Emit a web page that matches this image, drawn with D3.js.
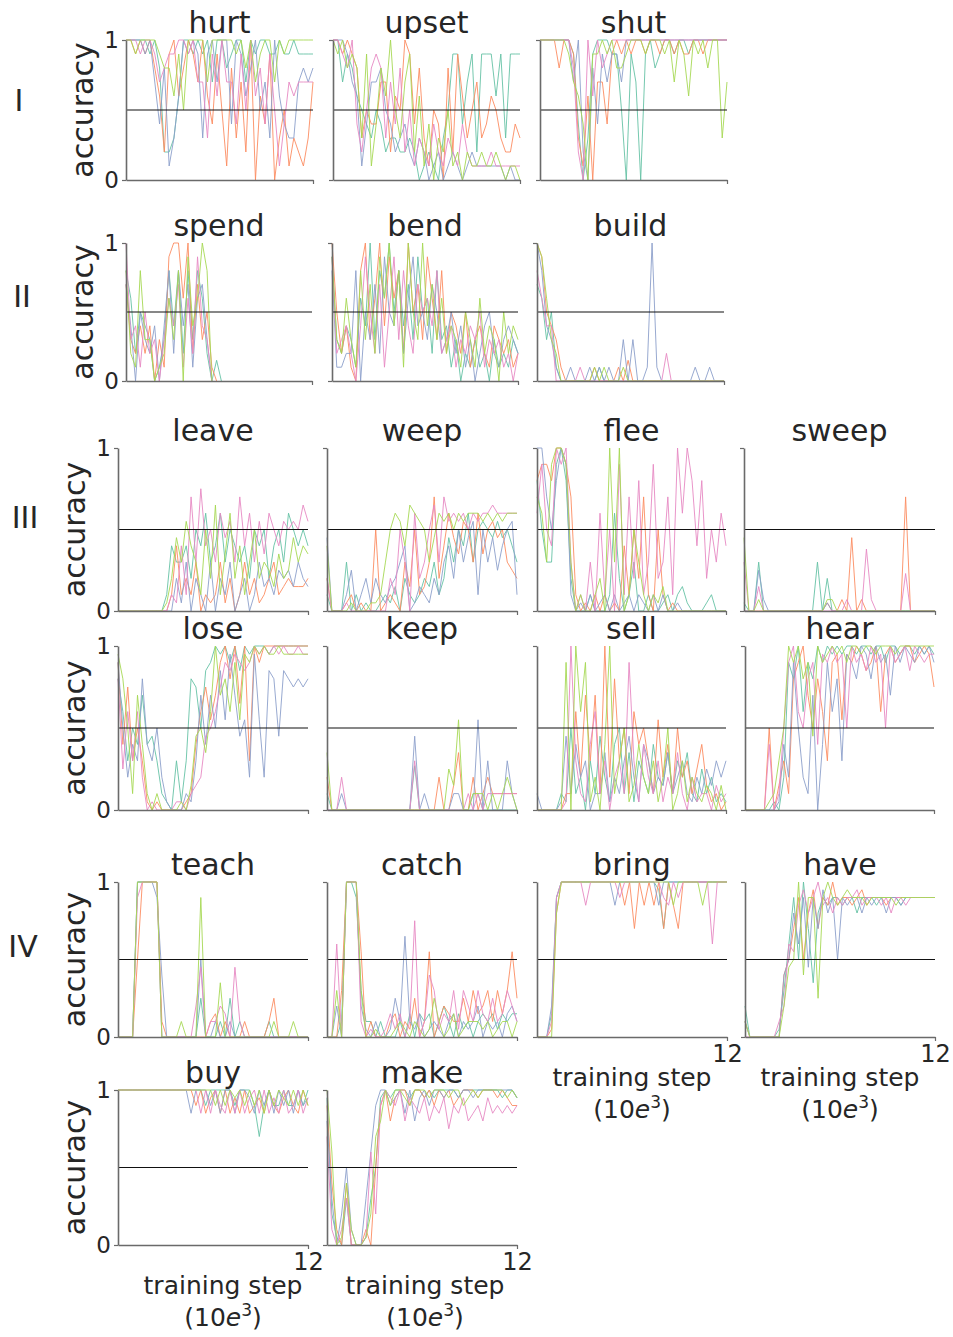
<!DOCTYPE html>
<html><head><meta charset="utf-8">
<script src="https://cdn.jsdelivr.net/npm/d3@7"></script>
<style>
body{margin:0;background:#fff;}
svg{display:block;font-family:"DejaVu Sans",sans-serif;}
</style></head>
<body>
<svg id="c" width="953" height="1337"></svg>
<script>
// ---- data: each verb = [teal, orange, blue, pink, green] series, accuracy per evaluation step (0..12 x10e3)
const hurt = [
 [1,1,1,1,1,.9,1,.8,.2,.2,.3,.6,1,1,.9,1,.9,1,.7,1,1,.8,.9,1,1,.7,1,.9,1,1,.9,.9,1,.9,.9,1,.9,.9,.9,.9],
 [1,1,.9,1,.9,1,.8,.6,.2,.9,1,.6,.8,1,.9,.7,1,.6,.4,.9,.5,.1,.8,.3,.7,.2,1,0,.6,.4,.9,0,.3,.5,.1,.3,.2,.1,.3,.7],
 [1,1,1,1,.9,1,.7,.4,.8,.1,.3,.6,1,.9,1,.9,.3,.9,1,.7,1,1,.4,1,.9,.6,.8,1,.5,.7,.3,1,.6,.4,.3,.3,.7,.8,.7,.8],
 [1,1,1,.9,1,1,.9,.7,.8,.9,.9,1,1,.9,1,.7,.7,.3,.9,.6,1,.7,.7,.4,.9,.5,1,.6,.8,.4,.9,.5,.1,.4,.7,.6,.7,.7,.7,.7],
 [1,1,.9,1,1,1,1,.9,.8,.8,.6,.9,.5,1,1,1,1,.7,1,1,1,1,1,.9,1,.8,1,.7,.9,1,1,.7,1,.9,1,1,1,1,1,1]
];
const upset = [
 [1,1,.7,.9,.8,.6,.5,.4,.3,.5,.4,.2,.3,.3,.2,.2,.3,.2,0,.1,.2,.1,0,.3,.5,.9,.9,.4,.7,.9,.2,.9,.9,.9,.6,.9,.3,.9,.9,.9],
 [1,1,.9,1,.9,.8,.3,.5,.4,.4,.7,.7,.2,.6,.5,1,.9,.4,.8,.3,.1,.5,.4,0,.8,.2,.9,.6,.3,.5,.7,.3,.4,.6,.5,.3,.2,.2,.4,.3],
 [1,1,1,.9,.7,.6,.1,.4,.7,.7,.8,.5,.4,.2,.3,.4,.2,.1,.3,.2,0,.1,.2,0,.1,.2,.1,0,.1,.2,.1,.1,.1,.1,.1,.1,0,.1,0,0],
 [1,1,.9,.8,1,.4,.2,.5,.8,.9,.8,.3,.7,.4,.8,.2,.5,.1,.3,.2,.1,.4,.2,.1,.3,.2,.1,.4,.2,.1,.1,.1,.1,.2,.1,.1,.1,.1,.1,.1],
 [1,.9,1,.8,.9,.8,.3,.9,.1,.4,.8,.6,1,.5,.3,.7,.9,.2,.6,.1,.4,0,.3,.2,.5,.1,.2,0,.2,.1,.1,.2,.1,.1,.2,.1,0,.1,.1,0]
];
const shut = [
 [1,1,1,1,1,1,1,.9,.4,0,.3,.9,1,1,1,.9,.9,.5,0,.9,.7,0,.9,1,.8,.9,1,1,.9,1,1,.9,1,1,1,1,1,1,1,1],
 [1,1,1,1,.8,1,1,.9,.3,.1,.6,0,.7,.7,.4,.9,1,.9,1,.9,1,1,.9,1,1,.9,1,1,.9,1,.9,.9,1,1,.9,1,1,1,1,1],
 [1,1,1,1,1,1,1,.7,1,.2,0,.8,.4,.9,.7,.9,.9,.7,1,1,1,1,1,1,1,1,1,1,1,1,1,1,1,1,1,1,1,1,1,1],
 [1,1,1,1,1,1,1,.8,.2,0,1,.6,1,.8,.9,1,1,1,1,1,1,1,1,1,1,1,1,1,1,1,1,1,1,1,1,1,1,1,1,1],
 [1,1,1,1,1,1,.9,.7,.6,.4,0,.9,.9,1,.9,1,.8,.8,.9,1,1,1,.9,1,1,1,.9,1,.7,1,.9,.6,1,.9,1,.8,1,1,.3,.7]
];
const spend = [
 [.8,.6,.2,.5,.4,.3,0,.1,.3,.8,.4,.8,.2,.8,.3,.8,.6,.2,0,.15,0],
 [.7,.3,.2,.4,.2,.4,0,.3,.1,.9,1,1,.6,1,.2,.7,.3,.5,.1,0],
 [.7,.4,0,.5,.3,.2,.4,0,.4,.8,.2,.8,.4,.7,.1,.6,.7,.3,0],
 [1,.3,.4,.1,.5,.2,.3,0,.3,.6,.4,.7,.1,.6,.2,.9,.4,.3,0],
 [.8,.2,.1,.8,.3,.3,0,.1,.2,.6,.3,.8,0,.9,.4,.6,1,.8,0]
];
const bend = [
 [.9,.3,.2,.4,.3,.1,.6,.4,1,.3,.8,.6,1,.5,.8,.4,.7,.3,.9,.5,.6,.2,.8,.3,.4,.1,.3,0,.2,.1,.3,.1,.2,0,.3,.1,.2,.1,.3,.2],
 [1,.5,.2,.4,.1,0,.8,1,.3,.6,1,.4,.9,.6,.8,.2,1,.5,.7,.3,.9,.6,.3,.8,.2,.5,.4,.2,.5,.1,.3,.4,.2,.1,.4,.3,.2,.3,.1,.2],
 [.8,.1,.1,.2,.2,.8,0,.5,.3,.7,.2,.9,.5,.4,.8,.2,.6,.9,.4,.5,.3,.7,.5,.2,.3,.5,.2,.4,.1,.3,0,.2,.4,.5,.2,.1,.3,.4,.3,.2],
 [.9,.2,.3,.4,.2,0,.4,.9,.5,.2,.7,.1,.5,.9,.3,.8,.4,.2,.7,.5,.6,.4,.8,.2,.3,.4,.1,.3,.2,.4,.3,.5,.1,.3,.2,.3,.1,.2,0,.2],
 [.9,.3,.2,.6,.3,.1,.8,.3,.7,.2,.9,.6,1,.4,.8,.1,1,.5,.3,1,.4,.7,.3,.6,.2,.4,.3,.1,.5,.3,.1,.6,.2,.4,.3,0,.5,.2,.4,.3]
];
const build = [
 [.7,.6,.3,.5,.1,0,0,0,0,0,0,0,0,.1,0,0,0,0,0,0,0,0,0,0,0,0,0,0,0,0,0,0,0,0,0,0,0,0,0,0],
 [1,.9,.5,.4,.3,.1,0,0,0,0,0,0,.1,0,0,0,0,.1,0,.15,0,0,0,0,0,0,0,0,0,0,0,0,0,0,0,0,0,0,0,0],
 [1,.8,.4,.3,.1,0,0,.1,0,0,0,.1,0,.1,0,.1,0,0,.3,0,.3,0,0,.1,1,.1,0,0,0,0,0,0,0,.1,0,0,.1,0,0,0],
 [.8,.6,.4,.4,0,0,0,0,0,.1,0,0,0,0,0,0,0,0,0,0,0,0,0,0,0,0,0,.2,0,0,0,0,0,0,0,0,0,0,0,0],
 [1,.9,.6,.3,.2,0,0,0,0,0,0,0,.1,0,.1,0,0,0,.1,0,0,0,0,0,0,0,0,0,0,0,0,0,0,0,0,0,0,0,0,0]
];
const leave = [
 [0,0,0,0,0,0,0,0,0,0,.1,.4,.3,.3,.4,.2,.5,.4,.6,.3,.4,.6,.3,.5,.4,.3,.4,.2,.5,.4,.5,.2,.4,.5,.3,.6,.5,.4,.5,.4],
 [0,0,0,0,0,0,0,0,0,0,0,.1,.4,.1,.2,.1,.3,0,.1,.05,.1,.3,.05,.2,0,.1,.3,.1,.2,.05,.1,.2,.3,.1,.15,.2,.15,.15,.15,.2],
 [0,0,0,0,0,0,0,0,0,0,0,0,.2,.05,.3,0,.2,.1,0,.3,0,.2,.1,.3,0,.1,.2,0,.1,.3,.15,.2,.1,.25,.2,.25,.15,.3,.2,.15],
 [0,0,0,0,0,0,0,0,0,0,0,.1,.05,.4,.1,.7,.3,.75,.4,.5,.3,.6,.45,.55,.3,.7,.4,.6,.3,.55,.35,.6,.5,.4,.55,.5,.55,.5,.65,.55],
 [0,0,0,0,0,0,0,0,0,0,.05,.2,.45,.3,.55,.4,.3,.1,.5,.2,.65,.1,.35,.6,.2,.4,.1,.3,.5,.2,.3,.25,.15,.35,.2,.25,.45,.3,.4,.35]
];
const weep = [
 [.1,0,0,0,.3,0,.1,0,.05,0,0,.05,.1,.05,.15,0,.2,.1,.05,.1,.2,.15,.3,.1,.2,.45,.3,.5,.4,.6,.3,.5,.55,.5,.45,.55,.45,.5,.4,.3],
 [.2,0,0,0,.05,.1,0,.05,0,0,.5,0,.05,.1,.05,0,.3,.15,.5,.1,.15,.3,.7,.2,.4,.6,.45,.35,.55,.5,.3,.6,.35,.5,.55,.45,.5,.3,.25,.2],
 [.45,0,0,0,.1,.25,0,.1,.2,.05,.2,.1,.05,.15,.2,.3,.4,0,.05,.15,.1,.05,.2,.1,.3,.4,.2,.5,.3,.45,.55,.1,.5,.3,.45,.25,.4,.5,.55,.1],
 [.2,0,0,0,.05,0,0,0,0,0,0,0,0,.2,.1,.5,.3,0,.6,.2,.3,.5,.65,.3,.7,.55,.6,.55,.6,.5,.6,.55,.6,.6,.65,.6,.6,.6,.6,.6],
 [.4,0,0,0,0,.05,0,0,0,.05,.05,.1,.3,.5,.6,.55,.4,.65,.6,.55,.5,.3,.45,.6,.55,.6,.5,.6,.55,.6,.6,.6,.55,.6,.55,.6,.55,.6,.6,.6]
];
const flee = [
 [.8,.5,.3,.3,.9,1,.8,.2,0,0,0,.1,0,0,0,.1,.6,.2,0,.1,.3,0,0,.1,0,0,.05,.1,0,.1,.15,.05,0,0,0,.05,.1,0,0,0],
 [.8,.9,.9,.8,1,1,.9,.7,.1,0,.05,0,.1,0,.1,0,.05,0,.4,.1,.5,.2,.7,.1,0,.5,.1,0,.05,0,0,0,0,0,0,0,0,0,0,0],
 [1,1,.7,.5,.8,1,.9,.1,0,.05,0,.1,0,.05,.1,0,.1,0,.05,.1,0,.1,.05,0,.1,0,.1,0,0,.05,0,0,0,0,0,0,0,0,0,0],
 [.6,.9,.5,.4,1,.9,1,.3,0,.1,0,.3,0,.6,.1,.5,0,.9,.1,.7,.2,.8,.1,.3,.9,.2,.3,.7,.1,1,.6,1,.8,.4,.8,.2,.5,.3,.6,.4],
 [.7,.6,.3,.9,1,1,.9,.3,0,.1,0,0,.1,.2,0,1,.3,1,0,.1,.5,.3,.1,0,.1,.05,.15,0,0,0,0,0,0,0,0,0,0,0,0,0]
];
const sweep = [
 [.05,0,0,.3,0,0,0,0,0,0,0,0,0,0,0,.3,0,.2,0,0,0,0,0,0,0,0,0,0,0,0,0,0,0,0,0,0,0,0,0,0],
 [0,0,0,0,0,0,0,0,0,0,0,0,0,0,0,0,0,.05,0,0,.07,0,.45,0,.07,0,0,0,0,0,0,0,0,.7,0,0,0,0,0,0],
 [0,0,0,.25,.07,0,0,0,0,0,0,0,0,0,0,0,0,.05,0,0,0,0,0,0,0,0,0,0,0,0,0,0,0,0,0,0,0,0,0,0],
 [.3,0,0,.15,0,0,0,0,0,0,0,0,0,0,0,0,0,0,0,0,0,.07,0,0,0,.38,.07,0,0,0,0,0,0,.23,0,0,0,0,0,0],
 [.45,0,0,.07,0,0,0,0,0,0,0,0,0,0,0,0,0,.07,.07,0,0,0,0,0,0,0,0,0,0,0,0,0,0,0,0,0,0,0,0,0]
];
const lose = [
 [.8,.6,.3,.5,.4,.7,.4,.45,.3,.1,.05,0,.3,.05,.3,.8,.75,.5,.85,.9,1,.95,1,.9,1,.85,1,.95,1,1,1,.95,1,1,1,1,1,1,1,1],
 [.9,.4,.75,.3,.5,.3,.05,0,.05,0,0,0,0,0,.05,.1,.4,.6,.75,.55,.7,.9,1,.8,1,.65,1,.3,1,.9,1,1,1,1,1,1,1,1,1,1],
 [.9,.5,.2,.4,.3,.8,.4,.3,.5,.2,.05,0,0,0,.1,.05,.3,.7,.4,.7,.5,.85,.55,.95,.7,.45,.55,.2,.95,.55,.2,.85,.8,.45,.85,.8,.75,.8,.75,.8],
 [.8,.25,.6,.3,.6,.2,0,.05,0,0,0,0,.05,.05,0,.1,.15,.2,.45,.5,.6,.75,.9,.85,.95,.9,.85,.9,1,.95,1,.95,1,.95,1,.95,.95,1,.95,.95],
 [.95,.8,.5,.1,.7,.4,.1,0,.1,0,0,0,0,.05,0,.15,.45,.5,.35,.6,1,.7,.8,.6,.9,.55,.95,.9,1,.95,1,.95,.95,1,.95,.95,.95,.95,.95,.95]
];
const keep = [
 [.1,0,0,0,0,0,0,0,0,0,0,0,0,0,0,0,0,0,.27,0,0,0,0,0,0,0,0,0,0,0,.1,.1,0,0,0,0,0,0,0,0],
 [.2,0,0,0,0,0,0,0,0,0,0,0,0,0,0,0,0,0,0,0,0,0,0,.2,0,0,.15,.35,0,0,.2,0,.1,.2,.1,.1,.1,.1,.1,.1],
 [0,0,0,.1,0,0,0,0,0,0,0,0,0,0,0,0,0,0,.45,0,.1,0,0,0,0,0,.1,.1,0,0,0,.55,0,.3,0,0,0,.3,.1,0],
 [0,0,0,.2,0,0,0,0,0,0,0,0,0,0,0,0,0,0,.3,0,0,0,0,0,0,0,0,0,0,.1,0,.1,0,.1,.1,.1,.1,.1,.1,.1],
 [.35,0,0,0,0,0,0,0,0,0,0,0,0,0,0,0,0,0,0,0,0,0,0,0,0,.25,.15,.55,0,0,.1,.1,.1,0,.1,0,.1,.2,.1,0]
];
const sell = [
 [0,0,0,0,0,.1,.05,.5,.1,.2,0,.3,.1,.45,.2,.05,.4,.5,.1,.35,.05,.3,.2,.1,.4,.2,.15,.35,.1,.3,.2,.35,.1,.05,.25,.1,.2,.05,.1,.05],
 [0,0,0,0,0,0,.1,.1,.6,.2,.7,.3,.7,.1,1,.2,.8,.3,.5,.1,.6,.4,.5,.3,.1,.55,.2,.4,.1,.5,.2,.3,.1,.25,.4,.15,.05,.1,0,.05],
 [.1,0,0,0,0,.05,.45,.1,.4,.2,.3,0,.1,.1,.35,.05,.2,.1,.3,.45,.2,.05,.4,.3,.1,.2,.15,.35,.1,.2,.3,.1,.05,.2,.1,.25,.15,.3,.2,.3],
 [0,0,0,0,0,0,.05,1,.3,.1,.05,.4,.6,.1,.3,0,.2,.3,.1,.9,.3,.05,.4,.2,.1,.3,.05,.2,.1,.35,.1,0,.2,.05,.1,.1,0,.15,.05,.1],
 [0,0,0,0,0,0,.9,0,1,.6,.9,.05,.2,0,.4,1,.1,.3,.5,.05,.15,.4,.2,.1,.3,.05,.2,.5,0,.1,.3,.05,.2,.1,.05,.15,.1,0,.15,0]
];
const hear = [
 [0,0,0,0,0,0,.05,0,.2,.9,.8,1,.6,.9,.8,1,.9,1,.95,1,.95,1,1,.95,1,1,.95,1,1,.9,1,1,.95,1,1,.95,1,.95,1,.95],
 [0,0,0,0,0,.5,0,.15,.3,.1,.8,.9,1,.7,.5,.8,.6,.3,.9,.95,.55,.95,.9,1,.95,.85,.9,1,.6,.95,1,.9,.95,1,1,.9,.95,1,.95,.75],
 [0,0,0,0,0,0,0,.05,.4,.2,.9,.5,.2,.1,.7,0,.4,.9,.6,.8,.3,.95,.9,.8,1,.95,.8,1,.9,.95,.7,1,.9,1,.95,.9,1,.95,1,.9],
 [0,0,0,0,0,.4,0,.1,.5,.9,1,.6,.5,.8,.9,.4,.95,.9,1,.9,.95,.5,1,.9,.95,.85,1,.9,.95,.5,1,.9,.95,1,.85,1,.95,.9,.95,.95],
 [0,0,0,0,0,.05,.1,.3,.5,1,.9,1,.8,.9,.45,1,.9,.95,1,.95,1,.9,1,1,.95,1,1,.95,1,1,1,.95,1,1,1,1,1,1,1,1]
];
const teach = [
 [0,0,0,0,1,1,1,1,1,0,0,0,0,0,0,0,0,.25,0,0,0,.1,0,.25,0,.1,0,0,0,0,0,.1,0,0,0,0,0,0,0,0],
 [0,0,0,0,.5,1,1,1,1,.1,0,0,0,0,0,0,0,0,0,.1,.15,0,.1,0,0,0,.1,0,0,0,0,.1,.25,0,0,0,0,0,0,0],
 [0,0,0,0,1,1,1,1,.9,.4,0,0,0,0,0,0,0,.5,0,0,.1,0,0,.1,0,0,0,0,0,0,0,0,0,0,0,0,0,0,0,0],
 [0,0,0,0,.9,1,1,1,1,0,0,0,0,0,0,0,.2,.45,0,.1,.1,.2,.15,0,.45,.1,0,0,0,0,0,0,0,0,0,0,0,0,0,0],
 [0,0,0,0,1,1,1,1,1,0,0,0,0,.1,0,0,0,.9,0,0,0,.35,0,0,0,0,0,0,0,0,0,0,.1,0,0,0,.1,0,0,0]
];
const catchV = [
 [0,0,0,.1,1,1,.9,.3,.1,.1,0,.1,0,0,0,.1,0,.15,0,.15,.1,.15,0,.1,.2,.1,0,.15,.05,.1,0,.1,.15,.1,.15,.05,.15,.1,.15,.15],
 [0,0,0,.3,1,1,1,.55,0,.1,0,0,0,.1,.15,0,.1,.05,.25,0,.1,.55,0,.1,.2,.15,.1,.1,.25,.1,.3,.15,.2,.3,.1,.3,.15,.3,.55,.25],
 [0,0,.2,0,1,1,1,.2,.05,0,.1,0,0,.05,.25,.1,.65,.1,.05,.15,0,.05,.1,.05,0,.1,.15,0,.1,.05,.1,.2,0,.1,.05,.1,0,.15,.2,.1],
 [0,0,.6,0,1,1,1,.1,0,.05,0,0,.05,.15,.05,.15,0,.1,.75,0,.1,.4,.3,.05,.15,.1,.3,.05,.3,.2,.1,.3,.15,.1,.25,.1,.15,.3,.2,.1],
 [0,0,.3,0,1,1,1,.3,0,0,.05,0,0,0,.05,.1,.05,0,.1,.05,0,.05,.25,.1,0,.05,.15,0,.05,.1,.1,.1,.05,.1,0,.05,.1,.1,0,.1]
];
const bring = [
 [0,0,0,.15,.9,1,1,1,1,1,1,1,1,1,1,1,1,1,1,1,1,1,1,1,1,.95,.7,1,1,1,1,1,1,1,1,1,1,1,1,1],
 [0,0,0,.05,.8,1,1,1,1,1,1,1,1,1,1,1,1,1,.85,1,.7,1,.85,1,.85,1,.7,1,.85,.7,1,1,1,1,1,1,1,1,1,1],
 [0,0,0,.2,.9,1,1,1,1,1,1,1,1,1,1,1,.85,1,1,1,1,1,1,1,1,.85,1,1,1,1,1,1,1,1,1,1,1,1,1,1],
 [0,0,0,.1,.9,1,1,1,1,1,.85,1,1,1,1,1,1,.9,1,1,1,1,1,1,1,1,.9,.85,1,.9,1,1,1,1,1,1,.6,1,1,1],
 [0,0,0,0,.8,1,1,1,1,1,1,1,1,1,1,1,1,1,1,1,1,1,1,1,1,1,1,1,.85,1,1,1,1,1,.85,1,1,1,1,1]
];
const have = [
 [.2,0,0,0,0,0,0,.05,.3,.6,.9,.5,1,.7,.35,.8,.9,.85,.9,.9,.85,.9,.9,.8,.9,.9,.9,.85,.9,.9,.9,.9,.85,.9,.9,.9,.9,.9,.9,.9],
 [.1,0,0,0,0,0,0,0,.4,.5,.7,.9,.5,.8,.95,.7,.9,.85,1,.85,.9,.9,.85,.9,.95,.85,.9,.9,.9,.85,.9,.9,.9,.9,.9,.9,.9,.9,.9,.9],
 [.1,0,0,0,0,0,0,0,.4,.5,.8,.6,.9,.45,.9,.7,.95,.8,.9,.5,.9,.85,.9,.9,.8,.9,.85,.9,.9,.8,.9,.9,.85,.9,.9,.9,.9,.9,.9,.9],
 [0,0,0,0,0,0,0,.1,.2,.6,.55,.85,.95,.8,.9,1,.85,.9,.8,.9,.85,.9,.9,.95,.85,.9,.9,.9,.85,.9,.8,.9,.9,.85,.9,.9,.9,.9,.9,.9],
 [.1,0,0,0,0,0,0,0,.2,.45,.5,1,.4,.9,.9,.25,.9,1,.9,.85,.9,.95,.9,.9,.9,.85,.9,.9,.9,.9,.9,.85,.9,.9,.9,.9,.9,.9,.9,.9]
];
const buy = [
 [1,1,1,1,1,1,1,1,1,1,1,1,1,1,1,1,1,1,.9,1,1,1,1,1,.9,1,1,1,.9,.7,.9,1,.9,.9,1,.9,.9,1,.9,1],
 [1,1,1,1,1,1,1,1,1,1,1,1,1,1,1,1,.9,1,.85,.95,1,.85,1,.85,.95,.85,1,.85,.9,.95,.85,1,.9,.85,.95,1,.9,.85,1,.9],
 [1,1,1,1,1,1,1,1,1,1,1,1,1,1,1,.85,1,1,1,.9,1,.85,1,1,.85,1,1,.95,.85,1,.9,1,.85,1,.9,1,.85,1,.9,.95],
 [1,1,1,1,1,1,1,1,1,1,1,1,1,1,1,1,1,.85,1,.85,1,.9,.85,1,.85,1,.85,.95,1,.85,1,.85,.95,.85,1,.85,.9,1,.85,.95],
 [1,1,1,1,1,1,1,1,1,1,1,1,1,1,1,1,1,1,1,1,.9,1,.9,1,.95,1,.9,1,.9,1,.85,1,.9,1,.95,.9,1,.9,1,.9]
];
const make = [
 [.95,.2,.05,0,.3,0,0,0,.05,.3,.5,.95,1,.95,1,1,1,.95,1,1,.95,1,.95,1,1,1,1,.95,1,1,1,1,1,1,1,1,.95,1,1,.95],
 [.9,.4,.1,0,.4,0,0,0,.1,0,.5,.9,1,.8,.95,1,1,.9,1,1,.95,1,.9,1,.95,1,.9,.95,1,1,1,.95,1,1,1,.95,1,.95,.9,.9],
 [.8,.3,0,.2,.5,.1,0,0,.3,.6,.9,1,1,.9,.95,1,.85,1,.8,.95,1,.9,1,1,.95,1,1,.95,1,1,.95,1,1,1,1,1,1,1,1,.95],
 [.7,.1,0,.1,.3,0,0,0,.05,.6,.2,.9,1,.95,.9,1,.8,.95,.9,.85,.95,.8,.9,.85,.95,.75,.9,.85,.95,.8,.85,.9,.8,.95,.85,.9,.85,.9,.85,.9],
 [1,.6,0,.05,.4,.1,0,0,.05,.2,.7,.8,1,.9,1,1,.95,.9,1,1,1,.95,1,1,1,.95,1,1,.9,.95,1,.95,1,1,1,1,1,.95,1,.95]
];
const groupLabels = ["I","II","III","IV"];
const nSteps = 40;      // evaluation points over the 12 (x10e3) training steps
const xMax = 12;
const chance = 0.5;
const colors = ["#66c2a5","#fc8d62","#8da0cb","#e78ac3","#a6d854"];

// ---- layout (cell: name, data, left, right, has x-label, x-label centre shift)
const rows = [
 {top:40, bot:180, cells:[["hurt",hurt,126,313],["upset",upset,333,520],["shut",shut,540,727]]},
 {top:243,bot:381, cells:[["spend",spend,126,312],["bend",bend,332,518],["build",build,537,724]]},
 {top:448,bot:611, cells:[["leave",leave,118,308],["weep",weep,327,517],["flee",flee,537,726],["sweep",sweep,744,935]]},
 {top:646,bot:810, cells:[["lose",lose,118,308],["keep",keep,327,517],["sell",sell,537,726],["hear",hear,745,934]]},
 {top:882,bot:1037,cells:[["teach",teach,118,308],["catch",catchV,327,517],["bring",bring,537,727,true,0],["have",have,745,935,true,0]]},
 {top:1090,bot:1245,cells:[["buy",buy,118,308,true,10],["make",make,327,517,true,3]]}
];
const groupPos = [[19,100],[22,296],[25,517],[23,946]];

const svg = d3.select("#c");
const FONT = "'DejaVu Sans', sans-serif";
const axisCol = "#6a6a6a";
const textCol = "#262626";

groupLabels.forEach((g,i)=>{
  svg.append("text").attr("x",groupPos[i][0]).attr("y",groupPos[i][1])
    .attr("text-anchor","middle").attr("dominant-baseline","central")
    .attr("font-size",30).attr("fill",textCol).text(g);
});

rows.forEach(row=>{
  row.cells.forEach((cell,ci)=>{
    const [name,series,x0,x1,bottomLabel,shift] = cell;
    const x = d3.scaleLinear().domain([0,xMax]).range([x0,x1]);
    const y = d3.scaleLinear().domain([0,1]).range([row.bot,row.top]);
    const g = svg.append("g");
    // title
    g.append("text").attr("x",(x0+x1)/2).attr("y",row.top-7).attr("text-anchor","middle")
      .attr("font-size",30).attr("fill",textCol).text(name);
    // series
    const line = d3.line().x((d,i)=>x(i*xMax/(nSteps-1))).y(d=>y(d));
    series.forEach((s,k)=>{
      g.append("path").datum(s).attr("d",line).attr("fill","none")
        .attr("stroke",colors[k]).attr("stroke-width",1).attr("stroke-opacity",0.9)
        .attr("stroke-linejoin","miter");
    });
    // chance line
    g.append("line").attr("x1",x(0)).attr("x2",x(xMax)).attr("y1",y(chance)).attr("y2",y(chance))
      .attr("stroke","#111").attr("stroke-width",1.1);
    // axes
    const first = ci===0;
    const ya = d3.axisLeft(y).tickValues([0,1]).tickSize(4).tickSizeOuter(0).tickPadding(3)
      .tickFormat(d=> first? d3.format("d")(d) : "");
    const yg = g.append("g").attr("transform",`translate(${x0},0)`).call(ya);
    const xa = d3.axisBottom(x).tickValues([xMax]).tickSize(4).tickSizeOuter(0).tickPadding(2)
      .tickFormat(d=> bottomLabel? String(d) : "");
    const xg = g.append("g").attr("transform",`translate(0,${row.bot})`).call(xa);
    [yg,xg].forEach(a=>{
      a.select(".domain").attr("stroke",axisCol).attr("stroke-width",1.6);
      a.selectAll(".tick line").attr("stroke",axisCol).attr("stroke-width",1.2);
      a.selectAll(".tick text").attr("font-family",FONT).attr("fill",textCol);
    });
    yg.selectAll(".tick text").attr("font-size",23);
    xg.selectAll(".tick text").attr("font-size",24).attr("dy","0.8em");
    if(first){
      g.append("text").attr("transform",`translate(${x0-33},${(row.top+row.bot)/2}) rotate(-90)`)
        .attr("text-anchor","middle").attr("font-size",30).attr("fill",textCol).text("accuracy");
    }
    if(bottomLabel){
      const cx=(x0+x1)/2 + (shift||0);
      g.append("text").attr("x",cx).attr("y",row.bot+49).attr("text-anchor","middle")
        .attr("font-size",25).attr("fill",textCol).text("training step");
      const t = g.append("text").attr("x",cx).attr("y",row.bot+81).attr("text-anchor","middle")
        .attr("font-size",25).attr("fill",textCol);
      t.append("tspan").text("(10");
      t.append("tspan").attr("font-style","italic").text("e");
      t.append("tspan").attr("font-size",17).attr("dy",-10).text("3");
      t.append("tspan").attr("dy",10).text(")");
    }
  });
});
</script>
</body></html>
